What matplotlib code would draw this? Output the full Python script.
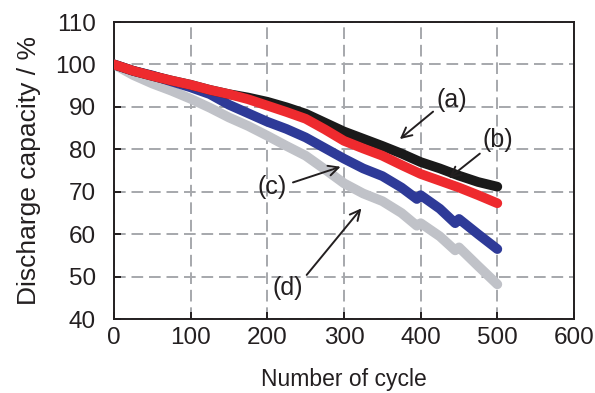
import matplotlib
matplotlib.use("Agg")
import matplotlib.pyplot as plt
import matplotlib.font_manager as fm

cyc_ab = [0, 25, 50, 75, 100, 125, 150, 175, 200, 225, 250, 275, 300, 325, 350, 375, 400, 425, 450, 475, 500]
cap_a = [100, 98.5, 97.3, 96.2, 95.2, 94.0, 93.0, 92.2, 91.2, 89.9, 88.4, 86.3, 84.2, 82.5, 80.8, 79.0, 77.0, 75.5, 73.8, 72.3, 71.2]
cap_b = [100, 98.5, 97.3, 96.2, 95.2, 94.0, 93.0, 91.8, 90.3, 88.8, 87.2, 84.7, 82.0, 80.2, 78.5, 76.3, 74.2, 72.6, 71.0, 69.2, 67.3]

cyc_cd = [0, 25, 50, 75, 100, 125, 150, 175, 200, 225, 250, 275, 300, 325, 350, 375, 395, 400, 425, 445, 450, 475, 500]
cap_c = [100, 98.5, 97.4, 96.0, 94.6, 93.0, 90.5, 88.5, 86.5, 84.8, 82.8, 80.3, 77.8, 75.5, 73.7, 71.0, 68.3, 69.2, 66.0, 62.6, 63.6, 60.0, 56.5]
cap_d = [100, 97.5, 95.5, 93.8, 91.9, 89.8, 87.5, 85.5, 83.2, 80.8, 78.5, 75.3, 72.0, 69.6, 67.8, 65.0, 62.0, 62.6, 59.5, 56.2, 56.9, 52.5, 48.2]

labels = ["(a)", "(b)", "(c)", "(d)"]
label_xy = [(440, 91.6), (500, 82.2), (206, 71.1), (227, 47.3)]
arrow_from = [(419, 89.3), (480, 79.4), (230, 72.0), (249, 49.9)]
arrow_to = [(370, 82.0), (434, 72.8), (299, 76.1), (325, 66.6)]

# pick the narrow Arial-metric font deterministically
narrow = [f.fname for f in fm.fontManager.ttflist if 'LiberationSansNarrow-Regular' in f.fname]
def fp(size):
    if narrow:
        return fm.FontProperties(fname=narrow[0], size=size)
    return fm.FontProperties(family=['Liberation Sans', 'DejaVu Sans'], size=size)

txt = '#231f20'

fig = plt.figure(figsize=(5.95, 3.93), dpi=100)
ax = fig.add_axes([0.1916, 0.188, 0.7731, 0.756])

lw = 7
ax.plot(cyc_cd, cap_d, color='#c0c2c8', lw=lw, solid_capstyle='round', solid_joinstyle='round', zorder=3)
ax.plot(cyc_cd, cap_c, color='#2e3a98', lw=lw, solid_capstyle='round', solid_joinstyle='round', zorder=4)
ax.plot(cyc_ab, cap_a, color='#1a1a1a', lw=lw, solid_capstyle='round', solid_joinstyle='round', zorder=5)
ax.plot(cyc_ab, cap_b, color='#ee2a2e', lw=lw, solid_capstyle='round', solid_joinstyle='round', zorder=6)

ax.set_xlim(0, 600)
ax.set_ylim(40, 110)
ax.set_xticks(range(0, 601, 100))
ax.set_yticks(range(40, 111, 10))
ax.grid(True, color='#a6a8ac', linestyle=(0, (6, 3)), linewidth=1.4)
ax.set_axisbelow(True)
for s in ax.spines.values():
    s.set_linewidth(1.4)
    s.set_color(txt)
ax.tick_params(direction='in', length=5, width=1.4, colors=txt)
ax.tick_params(axis='x', pad=6)
ax.tick_params(axis='y', pad=13)
for lbl in ax.get_xticklabels() + ax.get_yticklabels():
    lbl.set_fontproperties(fp(17.5))
ax.set_xlabel('Number of cycle', fontproperties=fp(16.5), labelpad=13, color=txt)
ax.set_ylabel('Discharge capacity / %', fontproperties=fp(19), labelpad=10, color=txt)

for lab, pos, a0, a1 in zip(labels, label_xy, arrow_from, arrow_to):
    ax.text(pos[0], pos[1], lab, fontproperties=fp(18), ha='center', va='center', color=txt, zorder=10)
    ax.annotate('', xy=a1, xytext=a0,
                arrowprops=dict(arrowstyle='->', color=txt, lw=1.4, mutation_scale=18),
                zorder=10)

fig.savefig('out.png', dpi=100)
